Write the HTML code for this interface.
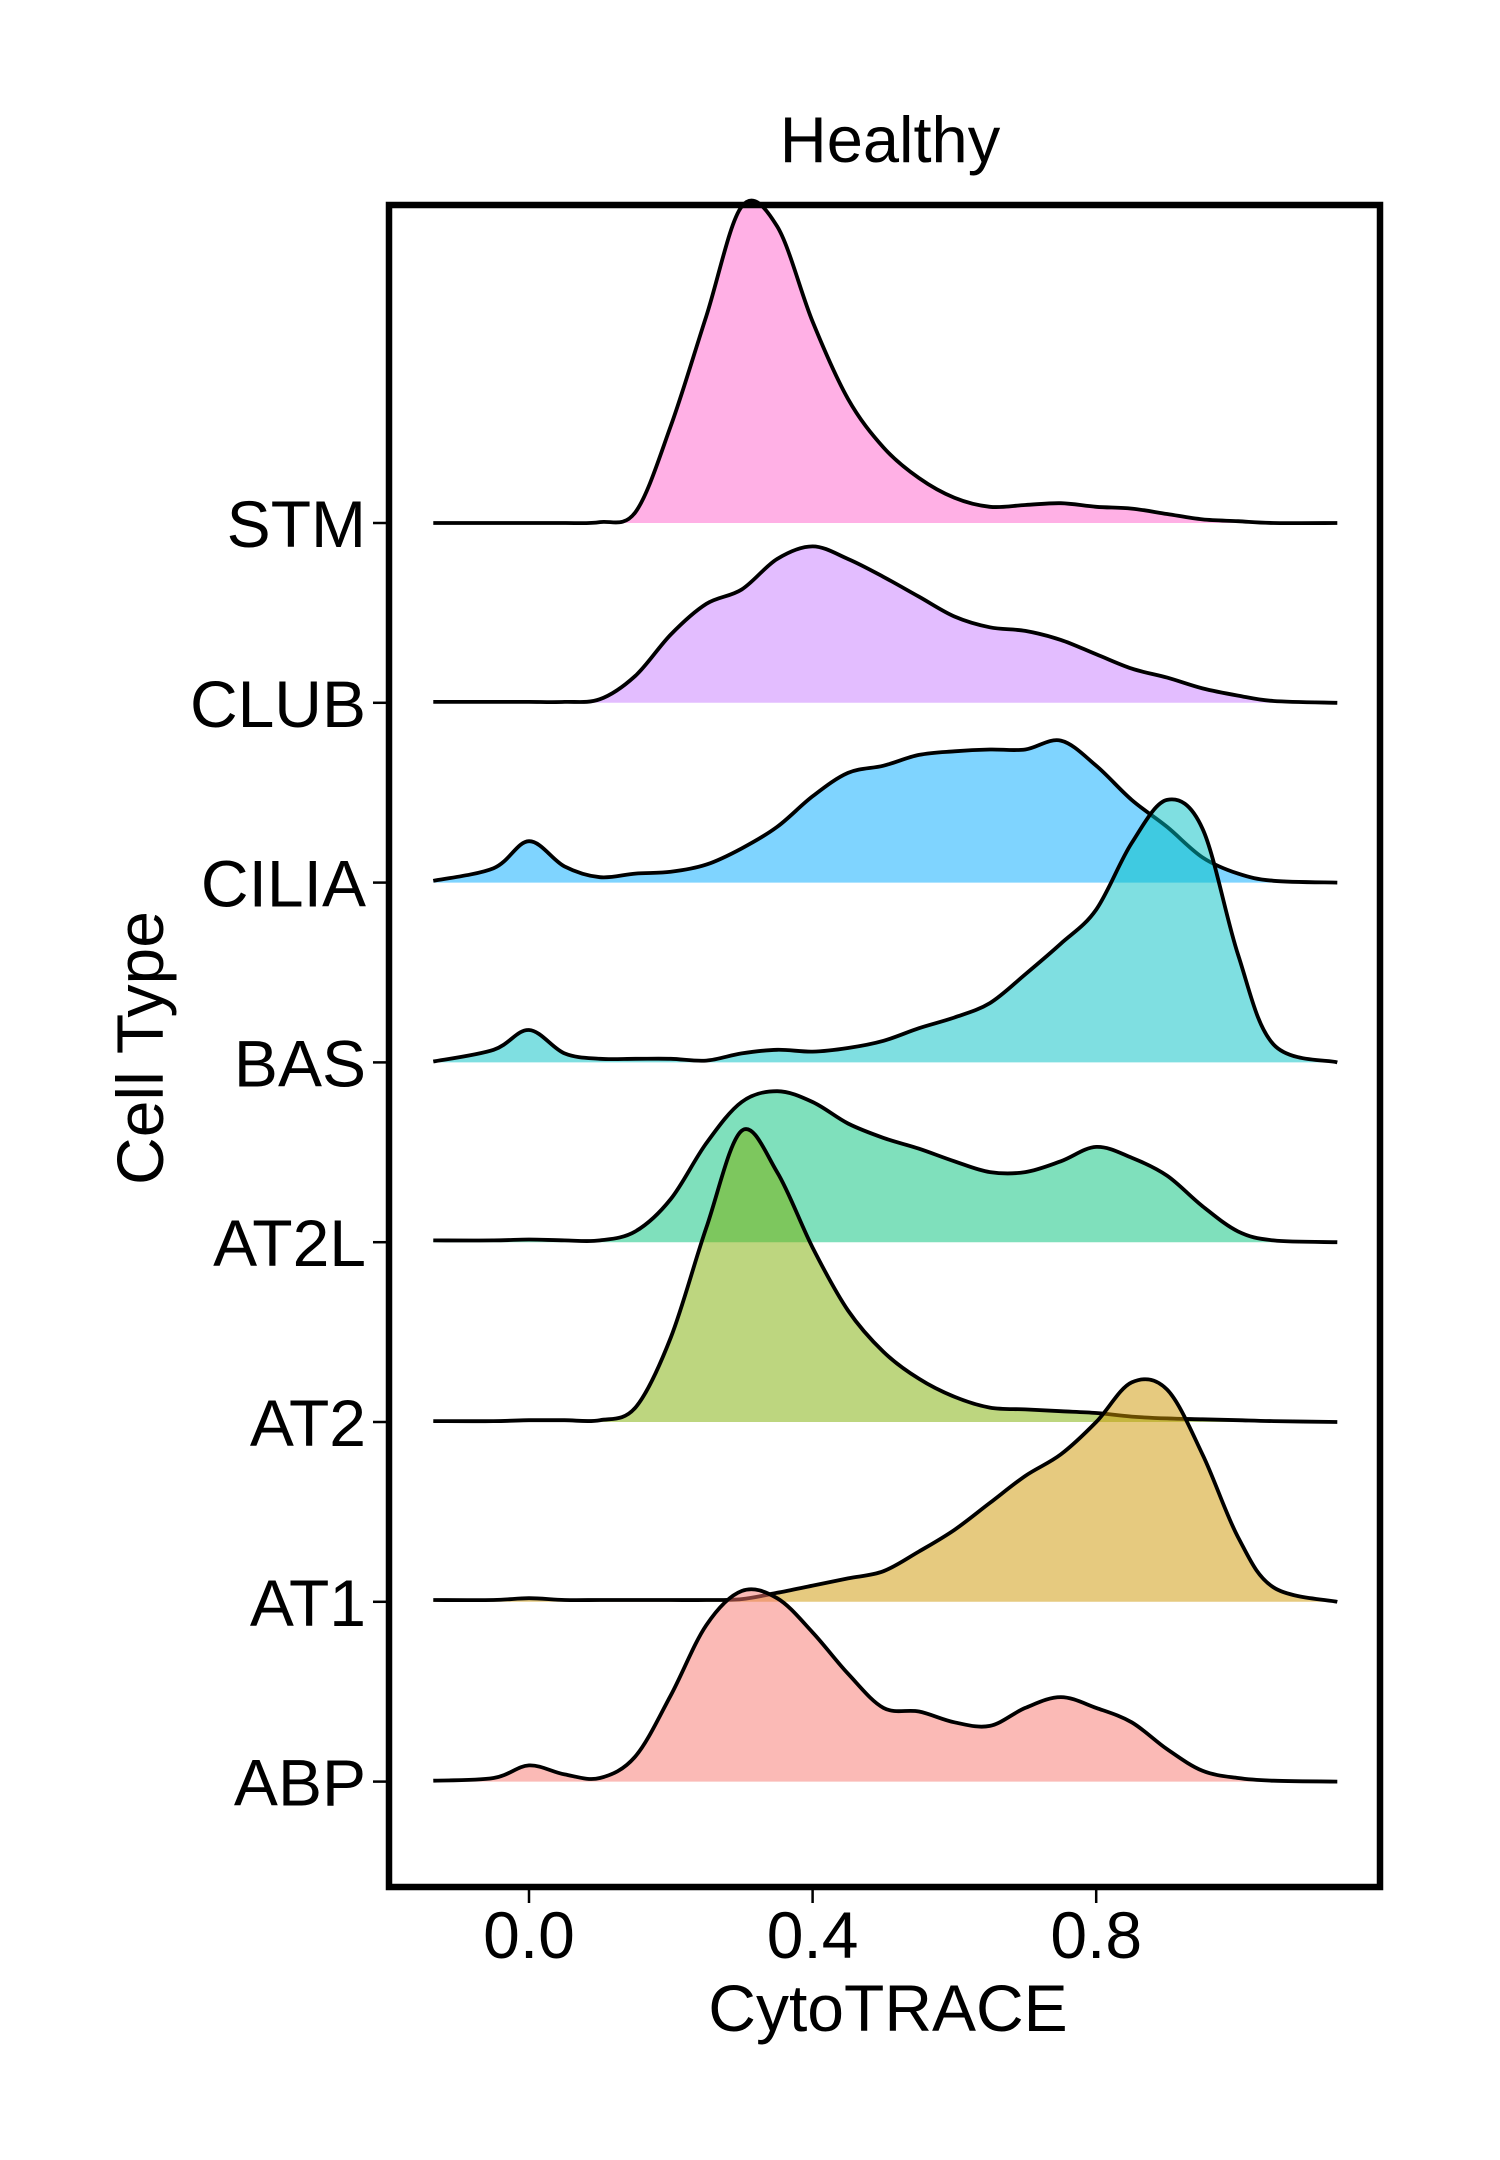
<!DOCTYPE html>
<html><head><meta charset="utf-8"><style>
html,body{margin:0;padding:0;background:#fff}
svg{display:block}
text{font-family:"Liberation Sans",sans-serif;fill:#000}
</style></head><body>
<svg id="chart" width="1500" height="2160" viewBox="0 0 1500 2160">
<text x="890" y="162" font-size="65" text-anchor="middle">Healthy</text>
<g id="ridges"></g>
<rect x="389" y="205" width="991" height="1682" fill="none" stroke="#000" stroke-width="6.5"/>
<g id="yaxis"></g>
<g id="xaxis"></g>
<text x="888" y="2031" font-size="66" text-anchor="middle">CytoTRACE</text>
<text transform="translate(163,1048) rotate(-90)" font-size="66" text-anchor="middle">Cell Type</text>
</svg>
<script>
const categories = ["STM","CLUB","CILIA","BAS","AT2L","AT2","AT1","ABP"];
const colors = ["#FF61CC","#C77CFF","#00A9FF","#00BFC4","#00C17A","#7CAE00","#CD9600","#F8766D"];
const xGrid = [-0.135,-0.05,0,0.05,0.1,0.15,0.2,0.25,0.3,0.35,0.4,0.45,0.5,0.55,0.6,0.65,0.7,0.75,0.8,0.85,0.9,0.95,1.0,1.05,1.14];
const stm  = [0,0,0,0,0.005,0.06,0.54,1.15,1.76,1.65,1.12,0.69,0.42,0.25,0.14,0.09,0.1,0.11,0.09,0.08,0.05,0.02,0.01,0,0];
const club = [0.005,0.005,0.005,0.005,0.02,0.15,0.38,0.55,0.63,0.8,0.87,0.8,0.7,0.59,0.48,0.42,0.4,0.35,0.27,0.19,0.14,0.08,0.04,0.01,0];
const cilia= [0.01,0.08,0.23,0.09,0.03,0.05,0.06,0.1,0.19,0.31,0.48,0.61,0.65,0.71,0.73,0.74,0.74,0.79,0.65,0.46,0.31,0.14,0.05,0.01,0];
const bas  = [0.005,0.07,0.18,0.05,0.02,0.02,0.02,0.01,0.05,0.07,0.06,0.08,0.12,0.19,0.25,0.33,0.49,0.66,0.85,1.22,1.46,1.3,0.6,0.1,0];
const at2l = [0.01,0.01,0.015,0.01,0.01,0.06,0.24,0.55,0.78,0.84,0.78,0.66,0.58,0.52,0.45,0.39,0.39,0.45,0.53,0.47,0.37,0.2,0.06,0.01,0];
const at2  = [0.005,0.005,0.01,0.01,0.01,0.08,0.47,1.08,1.62,1.39,0.97,0.62,0.39,0.24,0.14,0.08,0.07,0.06,0.05,0.03,0.02,0.015,0.01,0.005,0];
const at1  = [0.01,0.01,0.02,0.01,0.01,0.01,0.01,0.01,0.015,0.05,0.09,0.13,0.17,0.28,0.4,0.55,0.7,0.82,1.0,1.22,1.18,0.82,0.36,0.08,0];
const abp  = [0.005,0.02,0.09,0.04,0.02,0.14,0.48,0.87,1.06,1.02,0.83,0.6,0.41,0.39,0.33,0.31,0.41,0.47,0.41,0.33,0.18,0.06,0.02,0.005,0];
const series = [stm,club,cilia,bas,at2l,at2,at1,abp];
const xTicks = [0.0,0.4,0.8];
const xTickLabels = ["0.0","0.4","0.8"];

const NS="http://www.w3.org/2000/svg";
const X0=529, XS=709;
const Y0=523, ROW=179.8;
const xScale = v => X0 + v*XS;
const baseY = i => Y0 + i*ROW;
const hScale = h => h*ROW;

function pathThrough(pts){
  let d="M"+pts[0][0]+","+pts[0][1];
  for(let i=0;i<pts.length-1;i++){
    const p0=pts[Math.max(0,i-1)],p1=pts[i],p2=pts[i+1],p3=pts[Math.min(pts.length-1,i+2)];
    const c1=[p1[0]+(p2[0]-p0[0])/6,p1[1]+(p2[1]-p0[1])/6];
    const c2=[p2[0]-(p3[0]-p1[0])/6,p2[1]-(p3[1]-p1[1])/6];
    d+=" C"+c1[0].toFixed(1)+","+c1[1].toFixed(1)+" "+c2[0].toFixed(1)+","+c2[1].toFixed(1)+" "+p2[0].toFixed(1)+","+p2[1].toFixed(1);
  }
  return d;
}
const ridges=document.getElementById("ridges");
categories.forEach((c,i)=>{
  const b=baseY(i);
  const pts=xGrid.map((v,j)=>[xScale(v), b-hScale(series[i][j])]);
  const line=pathThrough(pts);
  const g=document.createElementNS(NS,"g");
  
  
  const area=document.createElementNS(NS,"path");
  area.setAttribute("d", line+" L"+xScale(xGrid[xGrid.length-1])+","+b+" L"+xScale(xGrid[0])+","+b+" Z");
  area.setAttribute("fill",colors[i]); area.setAttribute("fill-opacity","0.5"); area.setAttribute("stroke","none");
  
  
  const ln=document.createElementNS(NS,"path");
  ln.setAttribute("d", line); ln.setAttribute("fill","none"); ln.setAttribute("stroke","#000"); ln.setAttribute("stroke-width","3.8");
  
  
  g.appendChild(area); g.appendChild(ln); ridges.appendChild(g);
});
const yaxis=document.getElementById("yaxis");
categories.forEach((c,i)=>{
  const y=baseY(i);
  const t=document.createElementNS(NS,"line");
  t.setAttribute("x1",373);t.setAttribute("x2",386);t.setAttribute("y1",y);t.setAttribute("y2",y);
  t.setAttribute("stroke","#000");t.setAttribute("stroke-width","2.5");
  
  
  yaxis.appendChild(t);
  const tx=document.createElementNS(NS,"text");
  tx.setAttribute("x",366);tx.setAttribute("y",y+24);tx.setAttribute("font-size","66");tx.setAttribute("text-anchor","end");
  tx.textContent=c;
  
  
  yaxis.appendChild(tx);
});
const xaxis=document.getElementById("xaxis");
xTicks.forEach((v,i)=>{
  const x=xScale(v);
  const t=document.createElementNS(NS,"line");
  t.setAttribute("x1",x);t.setAttribute("x2",x);t.setAttribute("y1",1890);t.setAttribute("y2",1903);
  t.setAttribute("stroke","#000");t.setAttribute("stroke-width","2.5");
  
  
  xaxis.appendChild(t);
  const tx=document.createElementNS(NS,"text");
  tx.setAttribute("x",x);tx.setAttribute("y",1958);tx.setAttribute("font-size","66");tx.setAttribute("text-anchor","middle");
  tx.textContent=xTickLabels[i];
  
  
  xaxis.appendChild(tx);
});
</script>
</body></html>
